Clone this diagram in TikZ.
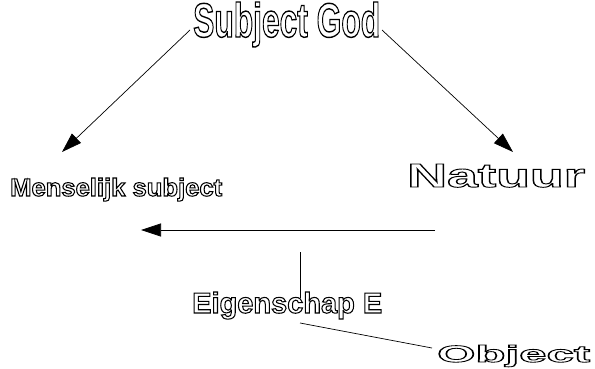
\documentclass[tikz,border=0pt]{standalone}
\usepackage{fontspec}
\setmainfont{Liberation Sans}
\usetikzlibrary{arrows.meta}
\newcommand{\outl}[3]{\fontsize{#1}{#1}\selectfont\bfseries\special{pdf:literal direct 1 Tr #2 w}#3\special{pdf:literal direct 0 Tr}}
\tikzset{
  lbl/.style={inner sep=0pt, anchor=base west},
  conn/.style={line width=0.7pt, black},
  arr/.style={conn, -{Triangle[length=20pt,width=13pt]}}
}
\begin{document}
\begin{tikzpicture}[x=1pt,y=-1pt]
\useasboundingbox (0,0) rectangle (595,369);
\node[lbl] (god) at (193,37) {\resizebox{187pt}{35pt}{\outl{48}{1.4}{Subject God}}};
\node[lbl] (mens) at (10,196) {\resizebox{212pt}{18pt}{\outl{25}{1.05}{Menselijk subject}}};
\node[lbl] (nat) at (407,187) {\resizebox{178pt}{23pt}{\outl{31}{0.85}{Natuur}}};
\node[lbl] (eig) at (192,313) {\resizebox{190pt}{21pt}{\outl{29}{1.05}{Eigenschap E}}};
\node[lbl] (obj) at (437,362) {\resizebox{153pt}{17pt}{\outl{23}{0.8}{Object}}};
\coordinate (g1) at (190,30);
\coordinate (m1) at (62,152);
\coordinate (g2) at (382,30);
\coordinate (n1) at (513,152);
\coordinate (h1) at (435,230);
\coordinate (h2) at (141,230);
\coordinate (v1) at (300,252);
\coordinate (v2) at (300,298);
\coordinate (e1) at (300,323);
\coordinate (o1) at (432,348);
\draw[arr] (g1) -- (m1);
\draw[arr] (g2) -- (n1);
\draw[arr] (h1) -- (h2);
\draw[conn] (v1) -- (v2);
\draw[conn] (e1) -- (o1);
\end{tikzpicture}
\end{document}
